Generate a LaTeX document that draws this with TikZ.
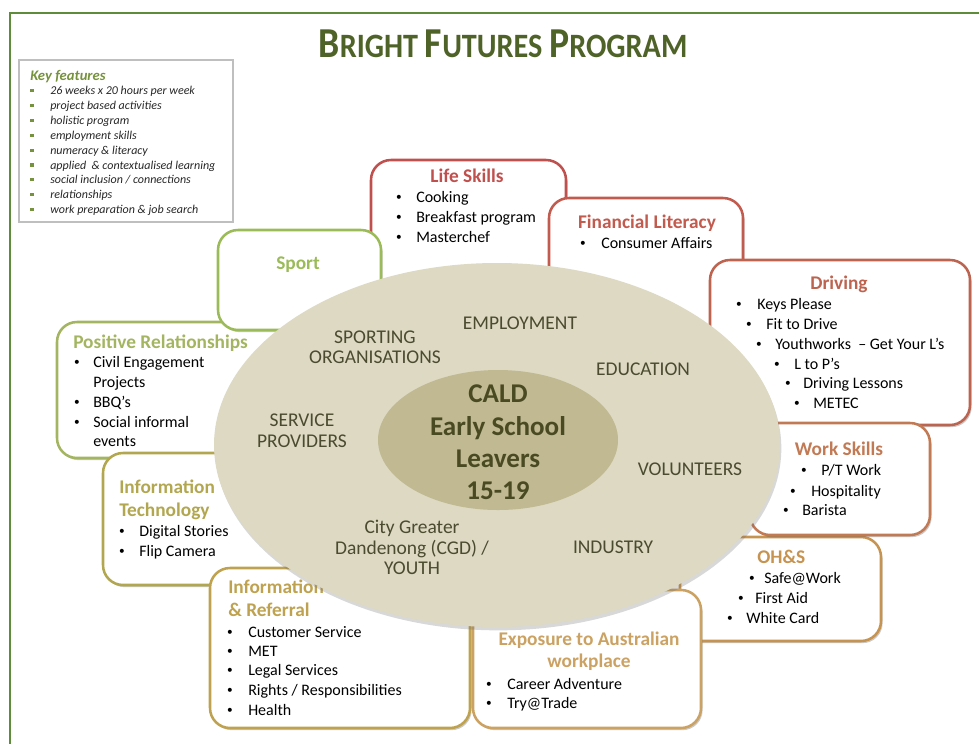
\documentclass[tikz,border=0pt]{standalone}
\usepackage{fontspec}
\setmainfont{Carlito}
\usetikzlibrary{shapes.geometric,shadows,fit}
\definecolor{cFrame}{HTML}{5E8C38}
\definecolor{cTitle}{HTML}{4F6228}
\definecolor{cKey}{HTML}{76923C}
\definecolor{cKeyBorder}{HTML}{BFBFBF}
\definecolor{cLS}{HTML}{C0504D}
\definecolor{cFL}{HTML}{C25A4E}
\definecolor{cDrv}{HTML}{BD6450}
\definecolor{cWS}{HTML}{C27A55}
\definecolor{cOHS}{HTML}{C79350}
\definecolor{cExp}{HTML}{CBA262}
\definecolor{cIR}{HTML}{BFA24F}
\definecolor{cIT}{HTML}{B2A74F}
\definecolor{cPR}{HTML}{A3B560}
\definecolor{cSport}{HTML}{9BBB59}
\definecolor{cOut}{HTML}{DDD9C3}
\definecolor{cIn}{HTML}{C0B992}
\definecolor{cLbl}{HTML}{4B4B30}
\definecolor{cCtr}{HTML}{4A4A22}
\newcommand{\bxitem}[5]{%
  \node[itm] (#1) at (#3,#4+5) {#5};
  \node[blt] (#1b) at (#2,#4+1) {•};}
\newcommand{\kfitem}[3]{%
  \node[kitm] (#1) at (50,#2+4) {#3};
  \node[ksq] (#1b) at (32,#2) {};}
\newcommand{\bfpBig}[1]{{\fontsize{32}{32}\selectfont #1}}
\tikzset{
  frame/.style={draw=cFrame, line width=1.5pt},
  box/.style={draw=#1, line width=1.9pt, rounded corners=15pt, fill=white, inner sep=0pt,
    drop shadow={shadow xshift=1.2pt, shadow yshift=-1.6pt, opacity=0.3, fill=black!70}},
  ttl/.style={font=\fontsize{14.5}{17}\selectfont\bfseries, text=#1, inner sep=0pt, anchor=base},
  ttlw/.style={font=\fontsize{14.5}{17}\selectfont\bfseries, text=#1, inner sep=0pt, anchor=base west},
  itm/.style={font=\fontsize{12}{15}\selectfont, inner sep=0pt, anchor=base west, text=black},
  blt/.style={font=\fontsize{8.5}{10}\selectfont, inner sep=0pt, anchor=center, text=black},
  lbl/.style={font=\fontsize{14.6}{15}\selectfont, text=cLbl, inner sep=0pt, anchor=base},
  ctr/.style={font=\fontsize{20.3}{24}\selectfont\bfseries, text=cCtr, inner sep=0pt, anchor=base},
  kbox/.style={draw=cKeyBorder, line width=0.8pt, inner sep=0pt},
  kttl/.style={font=\fontsize{11}{13}\selectfont\bfseries\itshape, text=cKey, inner sep=0pt, anchor=base west},
  kitm/.style={font=\fontsize{9}{11}\selectfont\itshape, text=black!85, inner sep=0pt, anchor=base west},
  ksq/.style={fill=cKey, rectangle, minimum size=2.4pt, inner sep=0pt},
  outerE/.style={ellipse, fill=cOut, minimum width=424.5pt, minimum height=273pt, inner sep=0pt,
    drop shadow={shadow xshift=1pt, shadow yshift=-2.5pt, opacity=0.25, fill=black!60}},
  innerE/.style={ellipse, fill=cIn, minimum width=180pt, minimum height=105pt, inner sep=0pt},
}
\begin{document}
\begin{tikzpicture}[x=0.75pt,y=-0.75pt]
\useasboundingbox (0,0) rectangle (979,744);
% frame
\coordinate (fa) at (10,744);
\coordinate (fb) at (10,13);
\coordinate (fc) at (979,13);
\draw[frame] (fa) -- (fb) -- (fc);
% title
\node[inner sep=0pt, anchor=base, text=cTitle, font=\bfseries] (title) at (503,57)
  {\scalebox{0.885}[1]{\fontsize{25.6}{32}\selectfont\bfpBig{B}RIGHT \bfpBig{F}UTURES \bfpBig{P}ROGRAM}};
% key features
\node[kbox, fit={(19,60) (233,222)}] (kf) {};
\node[kttl] (kft) at (30,80) {Key features};
\kfitem{k1}{90.7}{26 weeks x 20 hours per week}
\kfitem{k2}{105.6}{project based activities}
\kfitem{k3}{120.4}{holistic program}
\kfitem{k4}{135.3}{employment skills}
\kfitem{k5}{150.1}{numeracy \& literacy}
\kfitem{k6}{165}{applied \ \& contextualised learning}
\kfitem{k7}{179.8}{social inclusion / connections}
\kfitem{k8}{194.7}{relationships}
\kfitem{k9}{209.5}{work preparation \& job search}
% Life Skills
\node[box=cLS, fit={(371,160) (566,300)}] (ls) {};
\node[ttl=cLS] (lst) at (467,182) {Life Skills};
\bxitem{ls1}{399}{416}{197}{Cooking}
\bxitem{ls2}{399}{416}{217}{Breakfast program}
\bxitem{ls3}{399}{416}{237}{Masterchef}
% Financial Literacy
\node[box=cFL, fit={(549,198) (743,330)}] (fl) {};
\node[ttl=cFL] (flt) at (647,228) {Financial Literacy};
\bxitem{fl1}{583}{601}{243}{Consumer Affairs}
% Driving
\node[box=cDrv, fit={(710,260) (970,425)}] (dr) {};
\node[ttl=cDrv] (drt) at (839,289) {Driving};
\bxitem{dr1}{739}{757}{304}{Keys Please}
\bxitem{dr2}{749}{766}{324}{Fit to Drive}
\bxitem{dr3}{759}{775}{344}{Youthworks \ – Get Your L’s}
\bxitem{dr4}{777}{794}{364}{L to P’s}
\bxitem{dr5}{788}{803}{383}{Driving Lessons}
\bxitem{dr6}{797}{813}{403}{METEC}
% OH&S
\node[box=cOHS, fit={(680,537) (881,641)}] (oh) {};
\node[ttlw=cOHS] (oht) at (757,563) {OH\&S};
\bxitem{oh1}{752}{764}{578}{Safe@Work}
\bxitem{oh2}{741}{755}{598}{First Aid}
\bxitem{oh3}{730}{746}{618}{White Card}
% Work Skills
\node[box=cWS, fit={(750,423) (930,535)}] (ws) {};
\node[ttl=cWS] (wst) at (839,455) {Work Skills};
\bxitem{ws1}{804}{821}{470}{P/T Work}
\bxitem{ws2}{793}{811}{491}{Hospitality}
\bxitem{ws3}{786}{802}{510}{Barista}
% Exposure
\node[box=cExp, fit={(473,590) (701,728)}] (ex) {};
\node[ttl=cExp] (ext1) at (589,645) {Exposure to Australian};
\node[ttl=cExp] (ext2) at (589,667) {workplace};
\bxitem{ex1}{489}{507}{684}{Career Adventure}
\bxitem{ex2}{489}{507}{703}{Try@Trade}
% Positive Relationships
\node[box=cPR, fit={(57,322) (300,458)}] (pr) {};
\node[ttlw=cPR] (prt) at (73,348) {Positive Relationships};
\bxitem{pr1}{77}{93}{362}{Civil Engagement}
\node[itm] (pr1x) at (93,387) {Projects};
\bxitem{pr2}{77}{93}{402}{BBQ’s}
\bxitem{pr3}{77}{93}{422}{Social informal}
\node[itm] (pr3x) at (93,446) {events};
% Sport
\node[box=cSport, fit={(218,230) (381,330)}] (sp) {};
\node[ttl=cSport] (spt) at (298,269) {Sport};
% Information Technology
\node[box=cIT, fit={(103,453) (300,585)}] (it) {};
\node[ttlw=cIT] (itt1) at (119,493) {Information};
\node[ttlw=cIT] (itt2) at (119,516) {Technology};
\bxitem{it1}{122}{139}{531}{Digital Stories}
\bxitem{it2}{122}{139}{551}{Flip Camera}
% Information & Referral
\node[box=cIR, fit={(210,568) (470,728)}] (ir) {};
\node[ttlw=cIR] (irt1) at (228,593) {Information};
\node[ttlw=cIR] (irt2) at (228,616) {\& Referral};
\bxitem{ir1}{230}{248}{632}{Customer Service}
\bxitem{ir2}{230}{248}{651}{MET}
\bxitem{ir3}{230}{248}{670}{Legal Services}
\bxitem{ir4}{230}{248}{690}{Rights / Responsibilities}
\bxitem{ir5}{230}{248}{710}{Health}
% central ellipses
\node[outerE] (oe) at (497,445) {};
\node[innerE] (ie) at (498,440) {};
% ring labels
\node[lbl] (l1a) at (375,343) {SPORTING};
\node[lbl] (l1b) at (375,363) {ORGANISATIONS};
\node[lbl] (l2) at (520,329) {EMPLOYMENT};
\node[lbl] (l3) at (643,375) {EDUCATION};
\node[lbl] (l4a) at (302,426) {SERVICE};
\node[lbl] (l4b) at (302,447) {PROVIDERS};
\node[lbl] (l5) at (690,475) {VOLUNTEERS};
\node[lbl] (l6a) at (412,533) {City Greater};
\node[lbl] (l6b) at (412,554) {Dandenong (CGD) /};
\node[lbl] (l6c) at (412,574) {YOUTH};
\node[lbl] (l7) at (613,553) {INDUSTRY};
% centre
\node[ctr] (c1) at (498,402) {CALD};
\node[ctr] (c2) at (498,435) {Early School};
\node[ctr] (c3) at (498,467) {Leavers};
\node[ctr] (c4) at (498,499) {15-19};
\end{tikzpicture}
\end{document}
